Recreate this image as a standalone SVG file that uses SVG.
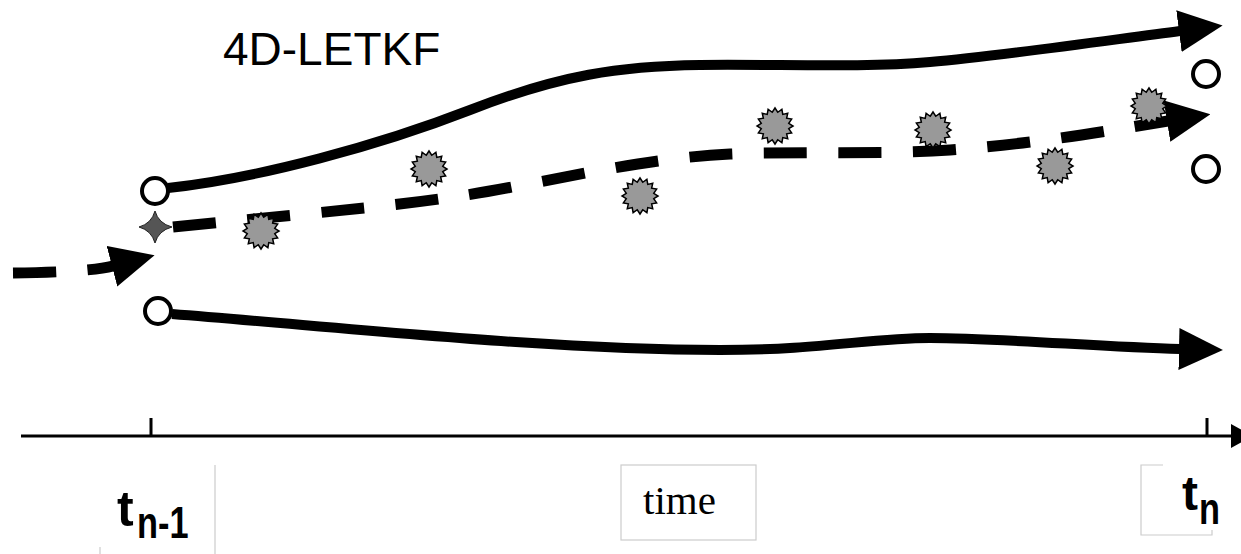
<svg xmlns="http://www.w3.org/2000/svg" width="1241" height="554" viewBox="0 0 1241 554">
<style>
.solid{fill:none;stroke:#000;stroke-width:10}
.dash{fill:none;stroke:#000;stroke-width:11;stroke-dasharray:43 31.5}
.circ{fill:#fff;stroke:#000;stroke-width:4}
.burst{fill:#999;stroke:#000;stroke-width:1.5}
.axis{fill:none;stroke:#000;stroke-width:3}
.box{fill:none;stroke:#cccccc;stroke-width:1.2}
.lab{font-family:"Liberation Sans",Arial,sans-serif;font-weight:bold;fill:#000}
</style>
<defs>
<marker id="ah" markerUnits="userSpaceOnUse" markerWidth="44" markerHeight="42" viewBox="0 0 42 40" refX="1" refY="20" orient="auto">
<path d="M0,0 L42,20 L0,40 Z" fill="#000"/>
</marker>
<marker id="ahs" markerUnits="userSpaceOnUse" markerWidth="22" markerHeight="24" viewBox="0 0 20 22" refX="1" refY="11" orient="auto">
<path d="M0,0 L20,11 L0,22 Z" fill="#000"/>
</marker>
<path id="sb" d="M18,0 L13.73,2.73 L16.63,6.89 L11.64,7.78 L12.73,12.73 L7.78,11.64 L6.89,16.63 L2.73,13.73 L0,18 L-2.73,13.73 L-6.89,16.63 L-7.78,11.64 L-12.73,12.73 L-11.64,7.78 L-16.63,6.89 L-13.73,2.73 L-18,0 L-13.73,-2.73 L-16.63,-6.89 L-11.64,-7.78 L-12.73,-12.73 L-7.78,-11.64 L-6.89,-16.63 L-2.73,-13.73 L0,-18 L2.73,-13.73 L6.89,-16.63 L7.78,-11.64 L12.73,-12.73 L11.64,-7.78 L16.63,-6.89 L13.73,-2.73 Z"/>
</defs>
<rect width="1241" height="554" fill="#fff"/>

<g id="title"><text x="223" y="65" font-family="'Liberation Sans',Arial,sans-serif" font-size="46" fill="#000">4D-LETKF</text></g>

<g id="connectors">
<path class="solid" d="M168,188 C260,178 380,145 470,110 C560,75 620,66 700,65 C780,64 860,68 930,62 C1000,56 1110,40 1180,31" marker-end="url(#ah)"/>
<path class="solid" d="M172,314 C350,328 550,350 720,350 C820,350 870,338 930,338 C1000,338 1100,347 1180,349" marker-end="url(#ah)"/>
<path class="dash" d="M173,227 C300,214 380,208 460,196 C540,184 640,158 730,154 C800,151 880,155 950,150 C1040,143 1100,132 1168,121" marker-end="url(#ah)"/>
<path class="dash" d="M13,273 Q90,272 113,266" marker-end="url(#ah)"/>
</g>

<g id="analysis-start"><path d="M0,-16 Q3.5,-3.5 17,0 Q3.5,3.5 0,16 Q-3.5,3.5 -16,0 Q-3.5,-3.5 0,-16 Z" transform="translate(155,227)" fill="#555" stroke="#222" stroke-width="1"/></g>

<g id="member-top-start"><circle class="circ" cx="155" cy="191" r="13"/></g>
<g id="member-bottom-start"><circle class="circ" cx="158" cy="311" r="13"/></g>
<g id="member-top-end"><circle class="circ" cx="1206" cy="74" r="13"/></g>
<g id="member-bottom-end"><circle class="circ" cx="1206" cy="169" r="13"/></g>

<g id="observations">
<use href="#sb" class="burst" x="261" y="231"/>
<use href="#sb" class="burst" x="429" y="169"/>
<use href="#sb" class="burst" x="640" y="196"/>
<use href="#sb" class="burst" x="775" y="126"/>
<use href="#sb" class="burst" x="933" y="130"/>
<use href="#sb" class="burst" x="1055" y="166"/>
<use href="#sb" class="burst" x="1149" y="106"/>
</g>

<g id="time-axis">
<path class="axis" d="M21,436 L1232,436" marker-end="url(#ahs)"/>
<path class="axis" d="M151,418 L151,436 M1207,418 L1207,436"/>
</g>

<g id="label-tn-1">
<path class="box" d="M215,465 L215,554 M100,547 L100,554"/>
<text class="lab" x="117" y="526" font-size="50">t</text>
<text class="lab" font-size="44" transform="translate(137,538) scale(0.78,1)">n-1</text>
</g>

<g id="label-time">
<rect class="box" x="621" y="465" width="135" height="75"/>
<text x="643" y="514" font-family="'Liberation Serif','Times New Roman',serif" font-size="41" fill="#000">time</text>
</g>

<g id="label-tn">
<path class="box" d="M1163,465 L1141,465 L1141,535 L1212,535 L1212,530"/>
<text class="lab" x="1182" y="510" font-size="48">t</text>
<text class="lab" font-size="44" transform="translate(1199,524) scale(0.78,1)">n</text>
</g>
</svg>
